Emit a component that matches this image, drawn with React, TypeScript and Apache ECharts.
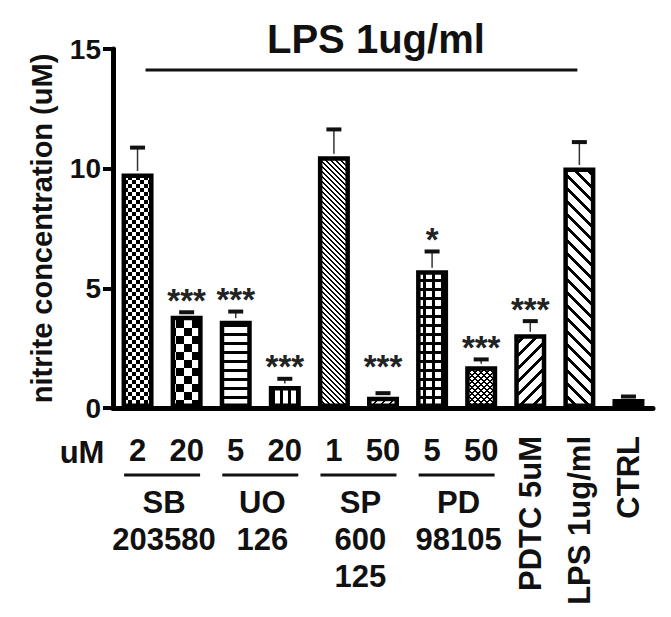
import React, { useEffect, useRef } from 'react';
import * as echarts from 'echarts';

// ---------- data ----------
const doseLabels = ['2', '20', '5', '20', '1', '50', '5', '50', 'PDTC 5uM', 'LPS 1ug/ml', 'CTRL'];
const means = [9.8, 3.85, 3.65, 0.92, 10.52, 0.47, 5.76, 1.74, 3.08, 10.05, 0.38];
const errors = [1.08, 0.15, 0.38, 0.3, 1.12, 0.15, 0.78, 0.29, 0.55, 1.06, 0.1];
const stars = ['', '***', '***', '***', '', '***', '*', '***', '***', '', ''];
const groupNames = ['SB\n203580', 'UO\n126', 'SP\n600\n125', 'PD\n98105'];
const groupStart = [0, 2, 4, 6];
const groupEnd = [1, 3, 5, 7];
const lpsSpan = [0, 9];
const rotatedFrom = 8;
const patternKinds = ['checkSmall', 'checkLarge', 'hLines', 'vLines', 'diagFine', 'diagSlash', 'grid', 'crossFine', 'slashCoarse', 'backCoarse', 'plain'];

const FONT = '"Liberation Sans", Arial, sans-serif';
const INK = '#111';

function makePattern(kind: string) {
  const specs: Record<string, [number, (x: number, y: number) => boolean]> = {
    checkSmall: [8, (x, y) => (Math.floor(x / 4) + Math.floor(y / 4)) % 2 === 0],
    checkLarge: [16, (x, y) => (Math.floor(x / 8) + Math.floor(y / 8)) % 2 === 0],
    hLines: [9, (x, y) => y < 3],
    vLines: [8, (x, y) => x < 3],
    diagFine: [5, (x, y) => (x - y + 50) % 5 < 2],
    diagSlash: [8, (x, y) => (x + y) % 8 < 2],
    grid: [9, (x, y) => x < 3 || y < 3],
    crossFine: [6, (x, y) => (x + y) % 6 < 2 || (x - y + 60) % 6 < 2],
    slashCoarse: [13, (x, y) => (x + y) % 13 < 4],
    backCoarse: [13, (x, y) => (x - y + 130) % 13 < 4],
    plain: [4, () => false],
  };
  const [n, f] = specs[kind];
  const c = document.createElement('canvas');
  c.width = n;
  c.height = n;
  const ctx = c.getContext('2d')!;
  const img = ctx.createImageData(n, n);
  for (let y = 0; y < n; y++) {
    for (let x = 0; x < n; x++) {
      const k = (y * n + x) * 4;
      const v = f(x, y) ? 0 : 255;
      img.data[k] = v;
      img.data[k + 1] = v;
      img.data[k + 2] = v;
      img.data[k + 3] = 255;
    }
  }
  ctx.putImageData(img, 0, 0);
  return { image: c.toDataURL(), repeat: 'repeat', imageWidth: n, imageHeight: n };
}

export default function App() {
  const ref = useRef<HTMLDivElement>(null);
  useEffect(() => {
    const chart = echarts.init(ref.current!, null, { renderer: 'svg' });
    const starFloor = 1.25;
    const option: any = {
      animation: false,
      backgroundColor: '#fff',
      title: {
        text: 'LPS 1ug/ml',
        left: 262,
        top: 14,
        textStyle: { fontFamily: FONT, fontSize: 40, fontWeight: 'bold', color: INK },
      },
      grid: { left: 113, right: 18, top: 49, bottom: 209, containLabel: false, outerBoundsMode: 'none' },
      xAxis: [
        {
          type: 'category',
          data: doseLabels,
          position: 'bottom',
          axisLine: { lineStyle: { color: '#000', width: 5 } },
          axisTick: { alignWithLabel: true, length: 10, lineStyle: { color: '#000', width: 4 } },
          axisLabel: {
            interval: 0,
            margin: 27,
            fontFamily: FONT,
            fontSize: 31,
            fontWeight: 'bold',
            color: INK,
            formatter: (v: string, i: number) => (i < rotatedFrom ? v : ''),
          },
        },
        {
          type: 'category',
          data: doseLabels,
          position: 'bottom',
          axisLine: { show: false },
          axisTick: { show: false },
          axisLabel: {
            interval: 0,
            rotate: 90,
            margin: 28,
            fontFamily: FONT,
            fontSize: 31,
            fontWeight: 'bold',
            color: INK,
            formatter: (v: string, i: number) => (i >= rotatedFrom ? v : ''),
          },
        },
      ],
      yAxis: {
        type: 'value',
        min: 0,
        max: 15,
        interval: 5,
        name: 'nitrite concentration (uM)',
        nameLocation: 'middle',
        nameGap: 57,
        nameRotate: 90,
        nameTextStyle: { fontFamily: FONT, fontSize: 29, fontWeight: 'bold', color: INK },
        axisLine: { show: true, lineStyle: { color: '#000', width: 5 } },
        axisTick: { show: true, length: 10, lineStyle: { color: '#000', width: 4 } },
        axisLabel: { margin: 12, fontFamily: FONT, fontSize: 28, fontWeight: 'bold', color: INK },
        splitLine: { show: false },
      },
      graphic: [
        {
          type: 'text',
          x: 82,
          y: 452,
          style: { text: 'uM', font: `bold 31px ${FONT}`, fill: INK, align: 'center', verticalAlign: 'middle' },
        },
      ],
      series: [
        {
          type: 'bar',
          xAxisIndex: 0,
          barWidth: 32,
          data: means.map((m, i) => ({
            value: m,
            itemStyle: { color: makePattern(patternKinds[i]), borderColor: '#000', borderWidth: 4.5 },
          })),
        },
        {
          type: 'custom',
          xAxisIndex: 0,
          clip: false,
          z: 5,
          data: means.map((m, i) => [i, m, errors[i]]),
          renderItem: (params: any, api: any) => {
            const i = api.value(0);
            const m = api.value(1);
            const e = api.value(2);
            const base = api.coord([i, m]);
            const top = api.coord([i, m + e]);
            const children: any[] = [
              { type: 'line', shape: { x1: base[0], y1: base[1] - 2.5, x2: top[0], y2: top[1] }, style: { stroke: '#333', lineWidth: 1.5 } },
              { type: 'line', shape: { x1: top[0] - 7.5, y1: top[1], x2: top[0] + 7.5, y2: top[1] }, style: { stroke: '#111', lineWidth: 4 } },
            ];
            const s = stars[params.dataIndex];
            if (s) {
              const lvl = api.coord([i, Math.max(m + e, starFloor)]);
              children.push({
                type: 'text',
                x: lvl[0],
                y: lvl[1] - 12,
                style: { text: s, font: `bold 33px ${FONT}`, fill: '#222', align: 'center', verticalAlign: 'middle' },
              });
            }
            return { type: 'group', children };
          },
        },
        {
          type: 'custom',
          xAxisIndex: 0,
          clip: false,
          silent: true,
          data: groupNames.map((_, g) => [groupStart[g], groupEnd[g]]),
          renderItem: (params: any, api: any) => {
            const a = api.coord([api.value(0), 0]);
            const b = api.coord([api.value(1), 0]);
            const cx = (a[0] + b[0]) / 2;
            const y0 = a[1];
            return {
              type: 'group',
              children: [
                { type: 'line', shape: { x1: cx - 38, y1: y0 + 67, x2: cx + 38, y2: y0 + 67 }, style: { stroke: '#111', lineWidth: 3 } },
                {
                  type: 'text',
                  x: cx + 2,
                  y: y0 + 76,
                  style: {
                    text: groupNames[params.dataIndex],
                    font: `bold 31px ${FONT}`,
                    lineHeight: 37,
                    fill: INK,
                    align: 'center',
                    verticalAlign: 'top',
                  },
                },
              ],
            };
          },
        },
        {
          type: 'custom',
          xAxisIndex: 0,
          clip: false,
          silent: true,
          data: [lpsSpan],
          renderItem: (params: any, api: any) => {
            const a = api.coord([api.value(0), 15]);
            const b = api.coord([api.value(1), 15]);
            return {
              type: 'line',
              shape: { x1: a[0] + 8, y1: a[1] + 21, x2: b[0] - 2, y2: b[1] + 21 },
              style: { stroke: '#111', lineWidth: 3 },
            };
          },
        },
      ],
    };
    chart.setOption(option);
    return () => chart.dispose();
  }, []);
  return <div ref={ref} style={{ position: 'fixed', left: 0, top: 0, width: 671, height: 617, background: '#fff' }} />;
}
